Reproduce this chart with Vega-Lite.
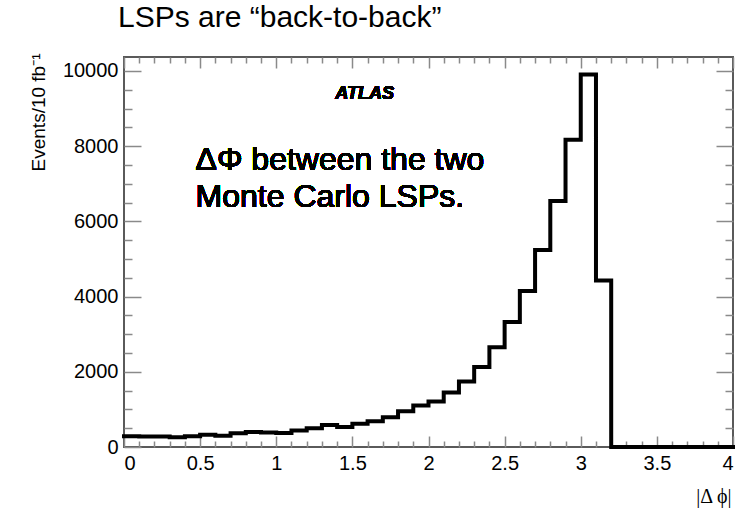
{
  "$schema": "https://vega.github.io/schema/vega-lite/v6.json",
  "width": 609,
  "height": 390,
  "autosize": {"type": "none"},
  "padding": {"left": 124, "top": 57, "right": 16, "bottom": 61},
  "background": "white",
  "config": {
    "font": "Liberation Sans",
    "view": {"stroke": "#5a5a5a", "strokeWidth": 2},
    "axis": {"grid": false, "domain": false, "tickColor": "#8a8a8a", "tickWidth": 1.5, "labelColor": "#000", "labelFont": "Liberation Sans", "labelFontSize": 20, "titleFont": "Liberation Sans", "titleFontWeight": "normal", "titleColor": "#000"}
  },
  "title": {
    "text": "LSPs are \u201cback-to-back\u201d",
    "anchor": "start",
    "frame": "group",
    "dx": -6,
    "dy": 29,
    "offset": 25,
    "baseline": "alphabetic",
    "font": "Liberation Sans",
    "fontSize": 30,
    "fontWeight": "normal",
    "color": "#000"
  },
  "data": {
    "values": [
      {"phi": 0.0, "events": 287}, {"phi": 0.1, "events": 282}, {"phi": 0.2, "events": 279}, {"phi": 0.3, "events": 258},
      {"phi": 0.4, "events": 285}, {"phi": 0.5, "events": 324}, {"phi": 0.6, "events": 300}, {"phi": 0.7, "events": 367},
      {"phi": 0.8, "events": 399}, {"phi": 0.9, "events": 386}, {"phi": 1.0, "events": 370}, {"phi": 1.1, "events": 439},
      {"phi": 1.2, "events": 500}, {"phi": 1.3, "events": 585}, {"phi": 1.4, "events": 532}, {"phi": 1.5, "events": 617},
      {"phi": 1.6, "events": 686}, {"phi": 1.7, "events": 793}, {"phi": 1.8, "events": 952}, {"phi": 1.9, "events": 1104},
      {"phi": 2.0, "events": 1210}, {"phi": 2.1, "events": 1450}, {"phi": 2.2, "events": 1742}, {"phi": 2.3, "events": 2128},
      {"phi": 2.4, "events": 2654}, {"phi": 2.5, "events": 3324}, {"phi": 2.6, "events": 4149}, {"phi": 2.7, "events": 5239},
      {"phi": 2.8, "events": 6543}, {"phi": 2.9, "events": 8170}, {"phi": 3.0, "events": 9907}, {"phi": 3.1, "events": 4428},
      {"phi": 3.2, "events": 0}, {"phi": 3.3, "events": 0}, {"phi": 3.4, "events": 0}, {"phi": 3.5, "events": 0},
      {"phi": 3.6, "events": 0}, {"phi": 3.7, "events": 0}, {"phi": 3.8, "events": 0}, {"phi": 3.9, "events": 0},
      {"phi": 4.0, "events": 0}
    ]
  },
  "resolve": {"axis": {"x": "independent", "y": "independent"}},
  "layer": [
    {
      "mark": {"type": "line", "interpolate": "step-after", "color": "#000", "strokeWidth": 4, "strokeJoin": "miter", "strokeCap": "square"},
      "encoding": {
        "x": {
          "field": "phi", "type": "quantitative",
          "scale": {"domain": [0, 4], "nice": false, "zero": false},
          "axis": {
            "orient": "bottom", "values": [0, 0.5, 1, 1.5, 2, 2.5, 3, 3.5, 4], "format": "~g",
            "tickSize": -11, "labelPadding": 17,
            "title": "|\u0394 \u03d5|", "titleFont": "Liberation Serif", "titleFontSize": 20,
            "titleAnchor": "end", "titleAlign": "right", "titleBaseline": "middle", "titleX": 607, "titleY": 49
          }
        },
        "y": {
          "field": "events", "type": "quantitative",
          "scale": {"domain": [0, 10370], "nice": false},
          "axis": {
            "orient": "left", "values": [0, 2000, 4000, 6000, 8000, 10000], "format": "d",
            "tickSize": -17, "labelPadding": 23,
            "title": "Events/10 fb\u207b\u00b9", "titleFontSize": 19,
            "titleAngle": -90, "titleAnchor": "end", "titleAlign": "right", "titleBaseline": "middle", "titleX": -86, "titleY": -4
          }
        }
      }
    },
    {
      "mark": {"type": "line", "interpolate": "step-after", "strokeOpacity": 0},
      "encoding": {
        "x": {"field": "phi", "type": "quantitative", "axis": {"orient": "bottom", "values": [0.1, 0.2, 0.3, 0.4, 0.6, 0.7, 0.8, 0.9, 1.1, 1.2, 1.3, 1.4, 1.6, 1.7, 1.8, 1.9, 2.1, 2.2, 2.3, 2.4, 2.6, 2.7, 2.8, 2.9, 3.1, 3.2, 3.3, 3.4, 3.6, 3.7, 3.8, 3.9], "tickSize": -6, "labels": false, "title": null}},
        "y": {"field": "events", "type": "quantitative", "axis": {"orient": "left", "values": [500, 1000, 1500, 2500, 3000, 3500, 4500, 5000, 5500, 6500, 7000, 7500, 8500, 9000, 9500], "tickSize": -8, "labels": false, "title": null}}
      }
    },
    {
      "mark": {"type": "line", "interpolate": "step-after", "strokeOpacity": 0},
      "encoding": {
        "x": {"field": "phi", "type": "quantitative", "axis": {"orient": "top", "values": [0, 0.5, 1, 1.5, 2, 2.5, 3, 3.5, 4], "tickSize": -11, "labels": false, "title": null}},
        "y": {"field": "events", "type": "quantitative", "axis": {"orient": "right", "values": [0, 2000, 4000, 6000, 8000, 10000], "tickSize": -17, "labels": false, "title": null}}
      }
    },
    {
      "mark": {"type": "line", "interpolate": "step-after", "strokeOpacity": 0},
      "encoding": {
        "x": {"field": "phi", "type": "quantitative", "axis": {"orient": "top", "values": [0.1, 0.2, 0.3, 0.4, 0.6, 0.7, 0.8, 0.9, 1.1, 1.2, 1.3, 1.4, 1.6, 1.7, 1.8, 1.9, 2.1, 2.2, 2.3, 2.4, 2.6, 2.7, 2.8, 2.9, 3.1, 3.2, 3.3, 3.4, 3.6, 3.7, 3.8, 3.9], "tickSize": -6, "labels": false, "title": null}},
        "y": {"field": "events", "type": "quantitative", "axis": {"orient": "right", "values": [500, 1000, 1500, 2500, 3000, 3500, 4500, 5000, 5500, 6500, 7000, 7500, 8500, 9000, 9500], "tickSize": -8, "labels": false, "title": null}}
      }
    },
    {
      "mark": {"type": "text", "text": "ATLAS", "font": "Liberation Sans", "fontSize": 18, "fontWeight": "bold", "fontStyle": "italic", "align": "center", "baseline": "alphabetic", "color": "#000"},
      "encoding": {
        "x": {"datum": 1.58, "type": "quantitative", "axis": null},
        "y": {"datum": 9240, "type": "quantitative", "axis": null}
      }
    },
    {
      "mark": {"type": "text", "text": "\u0394\u03a6 between the two", "font": "Liberation Sans", "fontSize": 32, "align": "left", "baseline": "alphabetic", "color": "#000"},
      "encoding": {
        "x": {"datum": 0.47, "type": "quantitative", "axis": null},
        "y": {"datum": 7354, "type": "quantitative", "axis": null}
      }
    },
    {
      "mark": {"type": "text", "text": "Monte Carlo LSPs.", "font": "Liberation Sans", "fontSize": 32, "align": "left", "baseline": "alphabetic", "color": "#000"},
      "encoding": {
        "x": {"datum": 0.47, "type": "quantitative", "axis": null},
        "y": {"datum": 6378, "type": "quantitative", "axis": null}
      }
    }
  ]
}
